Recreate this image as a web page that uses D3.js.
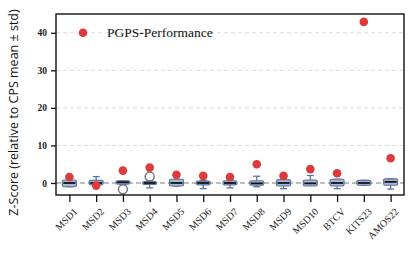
<!DOCTYPE html>
<html>
<head>
<meta charset="utf-8">
<script src="https://cdn.jsdelivr.net/npm/d3@7"></script>
<style>
  body { margin: 0; background: #fff; }
  text { font-family: "Liberation Serif", "DejaVu Serif", serif; }
</style>
</head>
<body>
<svg width="419" height="259"></svg>
<script>
var svg = d3.select("svg"),
    width = +svg.attr("width"),
    height = +svg.attr("height");

// categories and values
var datasets = ["MSD1", "MSD2", "MSD3", "MSD4", "MSD5", "MSD6", "MSD7", "MSD8", "MSD9", "MSD10", "BTCV", "KITS23", "AMOS22"];
var pgps = [1.6, -0.7, 3.3, 4.1, 2.2, 1.9, 1.6, 5.0, 1.9, 3.7, 2.6, 42.9, 6.6];
// CPS box stats: [whisker low, q1, median, q3, whisker high]
var boxes = [
  [-1.0, -1.0, 0.0, 0.8, 0.8],
  [-1.0, -0.5, 0.0, 0.7, 1.7],
  [-0.3, -0.3, 0.2, 0.6, 0.6],
  [-1.3, -0.4, 0.0, 0.4, 0.6],
  [-0.8, -0.8, 0.0, 1.0, 1.0],
  [-1.5, -0.5, 0.0, 0.5, 0.7],
  [-1.3, -0.5, 0.0, 0.6, 0.8],
  [-1.0, -0.6, -0.1, 0.6, 1.8],
  [-1.5, -0.8, 0.0, 0.9, 1.0],
  [-0.6, -0.8, -0.1, 0.8, 2.0],
  [-1.5, -0.8, 0.0, 1.0, 1.0],
  [-0.6, -0.6, 0.0, 0.7, 0.7],
  [-1.6, -0.6, 0.3, 1.1, 1.1]
];
// outliers of the CPS boxes: [dataset index, value]
var outliers = [[2, -1.7], [3, 1.7]];
var yTicks = [0, 10, 20, 30, 40];

var margin = {left: 56, right: 15, top: 14, bottom: 64};
var x = d3.scaleLinear()
    .domain([-0.5, datasets.length - 0.5])
    .range([margin.left, width - margin.right]);
var y = d3.scaleLinear()
    .domain([-3.2, 45])
    .range([height - margin.bottom, margin.top]);

// grid
svg.append("g")
  .selectAll("line")
  .data(yTicks.slice(1))
  .enter().append("line")
    .attr("x1", x.range()[0]).attr("x2", x.range()[1])
    .attr("y1", d => y(d)).attr("y2", d => y(d))
    .attr("stroke", "#dcdcdc").attr("stroke-width", 1)
    .attr("stroke-dasharray", "4,3");

// zero reference
svg.append("line")
    .attr("x1", x.range()[0]).attr("x2", x.range()[1])
    .attr("y1", y(0)).attr("y2", y(0))
    .attr("stroke", "#a8a8a8").attr("stroke-width", 1.6)
    .attr("stroke-dasharray", "5,3");

// boxes
var bw = 14, cap = 7;
var bg = svg.append("g").selectAll("g")
  .data(boxes)
  .enter().append("g")
    .attr("transform", (d, i) => "translate(" + x(i) + ",0)");
bg.append("line")
    .attr("y1", d => y(d[0])).attr("y2", d => y(d[4]))
    .attr("stroke", "#5b74a0").attr("stroke-width", 1.3);
bg.selectAll(".cap")
  .data(d => [d[0], d[4]])
  .enter().append("line")
    .attr("x1", -cap / 2).attr("x2", cap / 2)
    .attr("y1", d => y(d)).attr("y2", d => y(d))
    .attr("stroke", "#5b74a0").attr("stroke-width", 1.3);
bg.append("rect")
    .attr("x", -bw / 2).attr("width", bw)
    .attr("y", d => y(d[3])).attr("height", d => y(d[1]) - y(d[3]))
    .attr("rx", 1.5)
    .attr("fill", "#a7b6d2").attr("stroke", "#5b74a0").attr("stroke-width", 1.2);
bg.append("line")
    .attr("x1", -bw / 2 + 1).attr("x2", bw / 2 - 1)
    .attr("y1", d => y(d[2])).attr("y2", d => y(d[2]))
    .attr("stroke", "#111").attr("stroke-width", 1.8);

// outliers
svg.append("g").selectAll("circle")
  .data(outliers)
  .enter().append("circle")
    .attr("cx", d => x(d[0])).attr("cy", d => y(d[1]))
    .attr("r", 4.5)
    .attr("fill", "none").attr("stroke", "#777").attr("stroke-width", 1.5);

// PGPS points
svg.append("g").selectAll("circle")
  .data(pgps)
  .enter().append("circle")
    .attr("cx", (d, i) => x(i)).attr("cy", d => y(d))
    .attr("r", 4.3)
    .attr("fill", "#dd3b3b");

// frame
svg.append("rect")
    .attr("x", x.range()[0]).attr("y", y.range()[1])
    .attr("width", x.range()[1] - x.range()[0])
    .attr("height", y.range()[0] - y.range()[1])
    .attr("fill", "none").attr("stroke", "#111").attr("stroke-width", 1.4);

// axes
var yAxis = svg.append("g")
    .attr("transform", "translate(" + x.range()[0] + ",0)")
    .call(d3.axisLeft(y).tickValues(yTicks).tickSize(5).tickPadding(4));
var xAxis = svg.append("g")
    .attr("transform", "translate(0," + y.range()[0] + ")")
    .call(d3.axisBottom(x).tickValues(d3.range(datasets.length)).tickFormat(i => datasets[i]).tickSize(7));
[yAxis, xAxis].forEach(function(a) {
  a.select(".domain").remove();
  a.selectAll(".tick line").attr("stroke", "#111").attr("stroke-width", 1.3);
  a.selectAll("text").attr("fill", "#222")
    .style("font-family", "'Liberation Serif', serif");
});
yAxis.selectAll("text").style("font-size", "9.5px").style("font-weight", "bold");
xAxis.selectAll("text")
    .style("font-size", "10px")
    .attr("text-anchor", "end")
    .attr("dy", "0.3em")
    .attr("transform", "translate(-1,8) rotate(-45)");

// y label
svg.append("text")
    .attr("transform", "translate(18," + ((y.range()[0] + y.range()[1]) / 2 + 8) + ") rotate(-90)")
    .attr("text-anchor", "middle")
    .style("font-family", "'Open Sans', 'Noto Sans', sans-serif")
    .style("font-size", "12.5px")
    .attr("fill", "#111")
    .text("Z-Score (relative to CPS mean \u00b1 std)");

// legend
var leg = svg.append("g").attr("transform", "translate(" + 83 + "," + y(40) + ")");
leg.append("circle").attr("r", 4.3).attr("fill", "#dd3b3b");
leg.append("text")
    .attr("x", 24).attr("y", 4)
    .style("font-size", "13.5px")
    .attr("fill", "#111")
    .text("PGPS-Performance");
</script>
</body>
</html>
